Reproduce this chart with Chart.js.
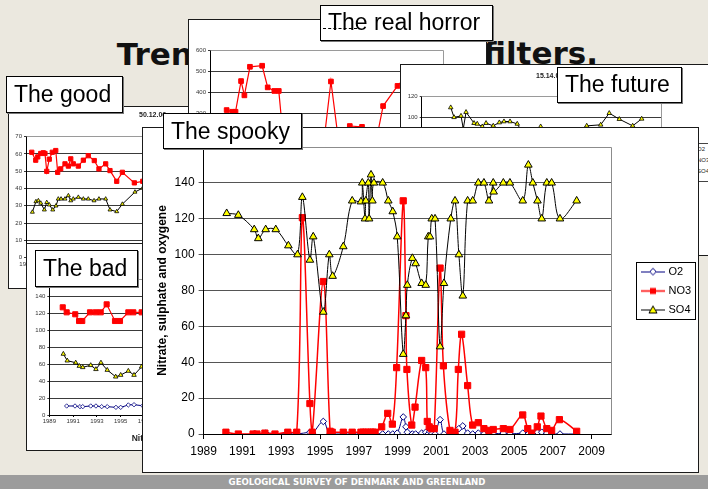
<!DOCTYPE html>
<html>
<head>
<meta charset="utf-8">
<script src="https://cdn.jsdelivr.net/npm/chart.js@4.4.1/dist/chart.umd.min.js"></script>
<style>
  html, body { margin:0; padding:0; }
  body { width:708px; height:489px; position:relative; overflow:hidden; background:#ebe8df; font-family:'Liberation Sans', Arial, sans-serif; }
  .panel { position:absolute; background:#fff; border:1px solid #1a1a1a; box-sizing:border-box; overflow:hidden; }
  .panel canvas { position:absolute; left:0; top:0; }
  .lbl { position:absolute; background:#fff; border:1px solid #000; box-shadow:1px 1px 0 #777; box-sizing:border-box; font-size:23px; line-height:23px; padding:6px 0 0 7px; white-space:nowrap; color:#000; font-family:'Liberation Sans', Arial, sans-serif; }
  .big { position:absolute; font-family:'DejaVu Sans', sans-serif; font-weight:bold; font-size:31px; line-height:31px; color:#111; white-space:nowrap; }
  .tiny { position:absolute; font-family:'Liberation Sans', Arial, sans-serif; font-weight:bold; font-size:7px; line-height:8px; color:#222; white-space:nowrap; }
  .leg { position:absolute; font-family:'Liberation Sans', Arial, sans-serif; font-size:6px; line-height:8px; color:#222; white-space:nowrap; }
</style>
</head>
<body>
<div class="big" style="left:116.7px;top:38.5px;z-index:1">Trends</div>
<div class="big" style="left:483px;top:38px;z-index:1">filters.</div>

<div class="panel" style="left:8px;top:106px;width:292px;height:183px;z-index:2">
  <canvas id="cGood" width="290" height="181"></canvas>
  <div class="tiny" style="left:130px;top:4px">50.12.06</div>
</div>

<div class="panel" style="left:188px;top:19px;width:299px;height:250px;z-index:3">
  <canvas id="cHorror" width="297" height="248"></canvas>
</div>

<div class="panel" style="left:26px;top:243px;width:290px;height:208px;z-index:4">
  <canvas id="cBad" width="288" height="206"></canvas>
  <div class="tiny" style="left:104.7px;top:189px;font-size:8.5px;line-height:10px">Nitrate</div>
</div>

<div class="panel" style="left:400px;top:64px;width:320px;height:192px;z-index:5">
  <canvas id="cFuture" width="318" height="190"></canvas>
  <div class="tiny" style="left:135px;top:7px">15.14.07</div>
  <div style="position:absolute;left:261px;top:78px;width:60px;height:37px;border:1px solid #444;background:#fff;">
    <div class="leg" style="left:34px;top:1px">O2</div>
    <div class="leg" style="left:34px;top:12px">NO3</div>
    <div class="leg" style="left:34px;top:23px">SO4</div>
  </div>
</div>

<div class="lbl" style="left:6px;top:76px;width:117px;height:37px;z-index:6">The good</div>
<div class="lbl" style="left:35px;top:250px;width:103px;height:37px;z-index:6">The bad</div>
<div class="lbl" style="left:320px;top:5px;width:173px;height:36px;z-index:6;padding-top:5px">The real horror<div style="position:absolute;left:2px;top:22px;width:34px;border-top:1px dashed #000"></div></div>
<div class="lbl" style="left:557px;top:67px;width:125px;height:36px;z-index:6;padding-top:5px">The future</div>

<div class="panel" style="left:142px;top:127px;width:557px;height:346px;z-index:7">
  <canvas id="cSpooky" width="555" height="344"></canvas>
</div>
<div class="lbl" style="left:163px;top:113px;width:139px;height:36px;z-index:8">The spooky</div>

<div style="position:absolute;left:0;top:475px;width:708px;height:14px;background:#9c9c9c;z-index:9"></div>
<div style="position:absolute;left:0;top:475px;width:714px;height:14px;line-height:14px;text-align:center;color:#fff;font-family:'DejaVu Sans',sans-serif;font-weight:bold;font-size:8.6px;z-index:10">GEOLOGICAL SURVEY OF DENMARK AND GREENLAND</div>

<script>
// ---------- main chart ("The spooky") data ----------
const xTickYears = [1989, 1991, 1993, 1995, 1997, 1999, 2001, 2003, 2005, 2007, 2009];
const xTickLabels = ['1989', '1991', '1993', '1995', '1997', '1999', '2001', '2003', '2005', '2007', '2009'];
const seriesNames = ['O2', 'NO3', 'SO4'];
const yAxisTitle = 'Nitrate, sulphate and oxygene';

const o2Years = [
  1991.61, 1992.20, 1993.37, 1993.84, 1994.48, 1994.62, 1995.17, 1995.52, 1996.20, 1996.66,
  1997.11, 1997.22, 1997.36, 1997.49, 1997.63, 1997.73, 1997.84, 1998.23, 1998.52, 1998.75,
  1998.98, 1999.29, 1999.43, 1999.50, 1999.76, 1999.93, 2000.24, 2000.45, 2000.58, 2000.67,
  2000.76, 2000.93, 2001.19, 2001.39, 2001.74, 2001.96, 2002.16, 2002.36, 2002.61, 2002.87,
  2003.16, 2003.45, 2003.71, 2003.93, 2004.45, 2004.79, 2005.45, 2005.74, 2005.97, 2006.21,
  2006.43, 2006.69, 2006.94, 2007.37, 2008.23];
const o2Values = [
  0, 0.5, 0, 0, 1, 0.5, 7, 0, 0, 0,
  0, 0, 0, 0, 0, 0, 0, 0, 0, 0,
  0.5, 9.5, 4, 1, 0, 0, 0.5, 1, 0, 1.5,
  0, 0, 8, 0, 0, 0, 3, 4.5, 0.5, 0,
  0.5, 0, 0, 0, 0.5, 0, 0.5, 0, 0, 1,
  1, 0.5, 0, 0, 0];

const no3Years = [
  1990.15, 1990.79, 1991.55, 1991.75, 1992.16, 1992.68, 1993.34, 1993.80, 1994.09, 1994.48,
  1994.60, 1995.17, 1995.52, 1995.63, 1996.20, 1996.66, 1997.11, 1997.22, 1997.36, 1997.49,
  1997.63, 1997.73, 1997.84, 1998.18, 1998.49, 1998.73, 1998.95, 1999.29, 1999.43, 1999.48,
  1999.73, 1999.90, 2000.24, 2000.45, 2000.53, 2000.63, 2000.76, 2000.89, 2001.19, 2001.36,
  2001.70, 2001.96, 2002.13, 2002.30, 2002.61, 2002.87, 2003.16, 2003.45, 2003.71, 2003.93,
  2004.45, 2004.79, 2005.45, 2005.71, 2005.91, 2006.20, 2006.39, 2006.69, 2006.94, 2007.34,
  2008.23];
const no3Values = [
  1, 0, 0, 0, 0.5, 0, 1, 1, 120.6, 17,
  1, 85, 1.5, 1, 1, 1, 1, 1, 1, 1,
  1, 1, 1, 4, 11.5, 5.5, 37, 130, 66, 36,
  5, 15, 41, 37, 7, 4, 3, 3, 92.5, 38,
  2, 1, 36, 55.6, 27, 5, 6.3, 3, 2, 2.5,
  3, 2.5, 10.6, 3, 0.5, 4, 10, 3, 2, 8,
  1.5];

const so4Years = [
  1990.19, 1990.79, 1991.61, 1991.82, 1992.20, 1992.72, 1993.37, 1993.84, 1994.09, 1994.48,
  1994.65, 1995.17, 1995.48, 1995.65, 1996.20, 1996.66, 1997.11, 1997.18, 1997.32, 1997.36,
  1997.49, 1997.53, 1997.63, 1997.70, 1997.78, 1998.23, 1998.52, 1998.75, 1998.98, 1999.29,
  1999.43, 1999.50, 1999.76, 1999.93, 2000.24, 2000.45, 2000.58, 2000.67, 2000.76, 2000.93,
  2001.19, 2001.39, 2001.74, 2001.96, 2002.16, 2002.36, 2002.61, 2002.87, 2003.16, 2003.45,
  2003.71, 2003.93, 2003.95, 2004.45, 2004.79, 2005.45, 2005.74, 2005.97, 2006.21, 2006.43,
  2006.69, 2006.94, 2007.37, 2008.23];
const so4Values = [
  123, 122, 114, 109, 114, 114, 105, 100, 132, 97,
  110, 68, 100, 88, 104.5, 130, 129.5, 140, 120, 130,
  140, 120, 144.5, 130, 140, 140, 130, 124, 110, 44.5,
  66, 83, 98, 95, 84, 83, 110, 110, 120, 120,
  48.7, 84, 120, 130, 100, 77, 130, 130, 140, 140,
  130, 140, 135, 140, 140, 130, 150, 140, 130, 120,
  140, 140, 120, 130];

// ---------- background charts data ----------
const miniTickYears = [1989, 1991, 1993, 1995, 1997, 1999, 2001, 2003, 2005, 2007, 2009];

const goodNo3Years = [1989.48, 1989.81, 1989.98, 1990.23, 1990.44, 1990.58, 1990.73, 1990.94, 1991.19, 1991.48,
  1991.64, 1991.89, 1992.25, 1992.53, 1992.73, 1992.94, 1993.36, 1993.78, 1994.19, 1994.69,
  1995.08, 1995.64, 1996.00, 1996.56, 1997.03, 1998.03, 1998.73, 1999.50];
const goodNo3Values = [61, 56.4, 58.3, 60.3, 60.7, 60.3, 50, 57, 61, 62,
  49.4, 51.4, 54.3, 53, 57.2, 54.3, 53, 56.4, 59, 56.2,
  51.4, 54.3, 50.4, 44.2, 49.4, 43.3, 44.2, 43];
const goodSo4Years = [1989.53, 1989.83, 1990.03, 1990.23, 1990.53, 1990.73, 1990.94, 1991.23, 1991.50, 1991.69,
  1991.92, 1992.25, 1992.53, 1992.73, 1992.94, 1993.36, 1993.78, 1994.19, 1994.67, 1995.08,
  1995.64, 1996.00, 1996.56, 1997.03, 1998.08, 1998.73, 1999.50];
const goodSo4Values = [26.4, 32.5, 33, 31.6, 27.7, 32, 30.6, 27.7, 30, 34,
  34, 34, 35.9, 33, 34, 35, 34, 34, 33, 34,
  34, 27.7, 26.7, 31, 38, 40.3, 42];

const badNo3Years = [1990.13, 1990.46, 1991.18, 1991.50, 1991.77, 1992.42, 1992.90, 1993.32, 1993.82, 1994.52,
  1994.94, 1995.64, 1996.06, 1996.76, 1997.50];
const badNo3Values = [126.7, 120.8, 118.5, 110.6, 110.6, 120.8, 120.8, 120.8, 130.2, 110.6,
  110.6, 120.8, 120.8, 120.8, 118];
const badSo4Years = [1990.18, 1990.51, 1991.22, 1991.52, 1991.81, 1992.48, 1992.92, 1993.34, 1993.87, 1994.58,
  1995.00, 1995.64, 1996.12, 1996.76, 1997.50];
const badSo4Values = [71.8, 63.9, 61.5, 57.6, 56.1, 58.5, 53.8, 61.5, 52.9, 45,
  47, 51.8, 47, 56.8, 60];
const badO2Years = [1990.46, 1991.16, 1991.58, 1991.81, 1992.48, 1992.92, 1993.40, 1993.87, 1994.60, 1995.00,
  1995.64, 1996.12, 1996.85];
const badO2Values = [10.6, 10.6, 9.8, 9.8, 10.6, 10.6, 9.8, 9.8, 9, 9,
  11.8, 12.1, 10.9];

const horrorNo3Years = [1990.5, 1991.0, 1991.3, 1991.8, 1992.1, 1992.6, 1993.7, 1994.2, 1994.8, 1995.2,
  1995.6, 1997.0, 1998.5, 1999.3, 1999.9, 2000.6, 2001.6, 2002.7, 2004.1, 2004.6,
  2005.9, 2006.6];
const horrorNo3Values = [314, 306, 306, 452, 384, 520, 525, 422, 405, 405,
  180, 160, 140, 180, 450, 160, 238, 234, 200, 333,
  429, 470];

const futureSo4Years = [1991.54, 1991.83, 1992.44, 1992.64, 1992.88, 1993.58, 1993.86, 1994.30, 1994.63, 1995.26,
  1995.79, 1996.20, 1996.73, 1997.36, 1998.10, 1999.41, 2000.50, 2001.80, 2003.44, 2004.66,
  2005.41, 2006.29, 2007.46, 2008.25];
const futureSo4Values = [109.5, 100, 101.3, 89, 105, 94.3, 93.6, 91, 94.3, 91.7,
  94.9, 95.9, 95.9, 93.6, 80, 91, 78, 80, 91.7, 92.7,
  104, 98.2, 91.7, 98.5];

// ---------- helpers ----------
Chart.defaults.font.family = "'Liberation Sans', Arial, sans-serif";
const ptsOf = (xs, ys) => xs.map((x, i) => ({ x: x, y: ys[i] }));
const al = p => Math.round(p - 0.5) + 0.5;

const framePlugin = {
  id: 'frame',
  beforeDatasetsDraw(chart, args, opts) {
    const { left, top, right, bottom } = chart.chartArea;
    const ctx = chart.ctx;
    ctx.save();
    ctx.strokeStyle = opts.color || '#888';
    ctx.lineWidth = 1;
    ctx.beginPath();
    ctx.moveTo(al(left), al(top));
    ctx.lineTo(al(right), al(top));
    ctx.lineTo(al(right), al(bottom));
    ctx.stroke();
    ctx.restore();
  }
};

function miniChart(id, cfg) {
  const cv = document.getElementById(id);
  const cw = cv.width, ch = cv.height, a = cfg.area;
  return new Chart(cv, {
    type: 'line',
    data: { datasets: cfg.datasets },
    options: {
      responsive: false, animation: false, events: [],
      layout: { padding: { top: a.t, right: cw - a.r, bottom: 0, left: 0 } },
      plugins: { legend: { display: false }, tooltip: { enabled: false }, frame: { color: '#9a9a9a' } },
      scales: {
        x: {
          type: 'linear', min: 1989, max: 2010,
          afterFit: s => { s.height = ch - a.b; },
          afterBuildTicks: s => { s.ticks = miniTickYears.map(v => ({ value: v })); },
          grid: { drawOnChartArea: false, tickLength: 2, color: '#000' },
          border: { color: '#000' },
          ticks: { autoSkip: false, maxRotation: 0, padding: 1, color: '#333', font: { size: 6 }, callback: v => String(v) }
        },
        y: {
          min: 0, max: cfg.yMax,
          afterFit: s => { s.width = a.l; },
          grid: { color: '#3a3a3a', tickLength: 2 },
          border: { color: '#000' },
          ticks: { stepSize: cfg.yStep, padding: 2, color: '#333', font: { size: 6 }, callback: v => String(v) }
        }
      }
    },
    plugins: [framePlugin]
  });
}

const redLine = (xs, ys, r) => ({ data: ptsOf(xs, ys), borderColor: '#ff0000', borderWidth: 1.2, pointStyle: 'rect', pointRadius: r, pointBackgroundColor: '#ff0000', pointBorderColor: '#ff0000', pointBorderWidth: 1, tension: 0 });
const blackTri = (xs, ys, r) => ({ data: ptsOf(xs, ys), borderColor: '#000000', borderWidth: 1, pointStyle: 'triangle', pointRadius: r, pointBackgroundColor: '#ffff00', pointBorderColor: '#000000', pointBorderWidth: 0.8, tension: 0 });
const blueDia = (xs, ys, r) => ({ data: ptsOf(xs, ys), borderColor: '#000080', borderWidth: 1, pointStyle: 'rectRot', pointRadius: r, pointBackgroundColor: '#ffffff', pointBorderColor: '#000080', pointBorderWidth: 0.8, tension: 0 });

miniChart('cGood', { area: { l: 17, t: 29.7, r: 269, b: 150.7 }, yMax: 70, yStep: 10,
  datasets: [blackTri(goodSo4Years, goodSo4Values, 2.3), redLine(goodNo3Years, goodNo3Values, 3)] });
miniChart('cHorror', { area: { l: 21, t: 30, r: 254, b: 156 }, yMax: 600, yStep: 100,
  datasets: [redLine(horrorNo3Years, horrorNo3Values, 3.3)] });
miniChart('cBad', { area: { l: 22.3, t: 35, r: 272.2, b: 171 }, yMax: 160, yStep: 20,
  datasets: [blueDia(badO2Years, badO2Values, 2.2), blackTri(badSo4Years, badSo4Values, 2.6), redLine(badNo3Years, badNo3Values, 3.6)] });
miniChart('cFuture', { area: { l: 20.7, t: 31.7, r: 260.7, b: 155.3 }, yMax: 120, yStep: 20,
  datasets: [blackTri(futureSo4Years, futureSo4Values, 2.6)] });

// ---------- legend icons for the main chart (line + marker) ----------
function makeIcon(kind) {
  const c = document.createElement('canvas');
  c.width = 48; c.height = 12;
  const g = c.getContext('2d');
  const cx = 36, cy = 6;
  const col = kind === 'O2' ? '#000080' : (kind === 'NO3' ? '#ff0000' : '#000000');
  g.strokeStyle = col;
  g.lineWidth = kind === 'NO3' ? 1.5 : 1;
  g.beginPath(); g.moveTo(24, cy + 0.5); g.lineTo(48, cy + 0.5); g.stroke();
  g.lineWidth = 1;
  if (kind === 'O2') {
    g.beginPath(); g.moveTo(cx, cy - 3.2); g.lineTo(cx + 3.2, cy + 0.2); g.lineTo(cx, cy + 3.6); g.lineTo(cx - 3.2, cy + 0.2); g.closePath();
    g.fillStyle = '#ffffff'; g.fill(); g.strokeStyle = '#000080'; g.stroke();
  } else if (kind === 'NO3') {
    g.fillStyle = '#ff0000'; g.fillRect(cx - 3, cy - 2.5, 6, 6);
  } else {
    g.beginPath(); g.moveTo(cx, cy - 3.5); g.lineTo(cx + 4, cy + 3.5); g.lineTo(cx - 4, cy + 3.5); g.closePath();
    g.fillStyle = '#ffff00'; g.fill(); g.strokeStyle = '#000'; g.stroke();
  }
  return c;
}
const legendIcons = seriesNames.map(makeIcon);

const legendBoxPlugin = {
  id: 'legendBox',
  afterDraw(chart) {
    const lg = chart.legend;
    const hb = lg && lg.legendHitBoxes;
    if (!hb || !hb.length) return;
    const ctx = chart.ctx;
    const x0 = al(lg.left + 25), x1 = al(lg.left + 84);
    const y0 = al(hb[0].top - 4), y1 = al(hb[hb.length - 1].top + hb[hb.length - 1].height + 4.5);
    ctx.save();
    ctx.strokeStyle = '#000';
    ctx.lineWidth = 1;
    ctx.strokeRect(x0, y0, x1 - x0, y1 - y0);
    ctx.restore();
  }
};

new Chart(document.getElementById('cSpooky'), {
  type: 'line',
  data: {
    datasets: [
      { label: seriesNames[0], data: ptsOf(o2Years, o2Values), borderColor: '#000080', borderWidth: 1, pointStyle: 'rectRot', pointRadius: 3.3, pointBackgroundColor: '#ffffff', pointBorderColor: '#000080', pointBorderWidth: 1, tension: 0.35, order: 3 },
      { label: seriesNames[1], data: ptsOf(no3Years, no3Values), borderColor: '#ff0000', borderWidth: 1.5, pointStyle: 'rect', pointRadius: 4.4, pointBackgroundColor: '#ff0000', pointBorderColor: '#ff0000', pointBorderWidth: 1, tension: 0.35, order: 2 },
      { label: seriesNames[2], data: ptsOf(so4Years, so4Values), borderColor: '#000000', borderWidth: 1, pointStyle: 'triangle', pointRadius: 4.4, pointBackgroundColor: '#ffff00', pointBorderColor: '#000000', pointBorderWidth: 1, tension: 0.35, order: 1 }
    ]
  },
  options: {
    responsive: false, animation: false, events: [],
    layout: { padding: { top: 19, right: 0, bottom: 0, left: 0 } },
    plugins: {
      tooltip: { enabled: false },
      frame: { color: '#8c8c8c' },
      legend: {
        position: 'right', align: 'center', fullSize: false, maxWidth: 87,
        labels: {
          usePointStyle: true, pointStyleWidth: 44, padding: 8, color: '#000', font: { size: 11 },
          generateLabels: (chart) => {
            const items = Chart.defaults.plugins.legend.labels.generateLabels(chart);
            items.forEach(it => { it.pointStyle = legendIcons[it.datasetIndex]; });
            return items;
          },
          sort: (a, b) => a.datasetIndex - b.datasetIndex
        }
      }
    },
    scales: {
      x: {
        type: 'linear', min: 1989, max: 2010,
        afterFit: s => { s.height = 38; },
        afterBuildTicks: s => { s.ticks = xTickYears.map(v => ({ value: v })); },
        grid: { drawOnChartArea: false, tickLength: 5, color: '#000' },
        border: { color: '#000' },
        ticks: { autoSkip: false, maxRotation: 0, padding: 5, color: '#000', font: { size: 12 }, callback: (v, i) => xTickLabels[i] }
      },
      y: {
        min: 0, max: 160,
        afterFit: s => { s.width = 60.6; },
        grid: { color: '#555555', tickLength: 5 },
        border: { color: '#000' },
        ticks: { stepSize: 20, padding: 4, color: '#000', font: { size: 12 } },
        title: { display: true, text: yAxisTitle, color: '#000', font: { size: 12, weight: 'bold' }, padding: { top: 12.5, bottom: 0 } }
      }
    }
  },
  plugins: [framePlugin, legendBoxPlugin]
});
</script>
</body>
</html>
